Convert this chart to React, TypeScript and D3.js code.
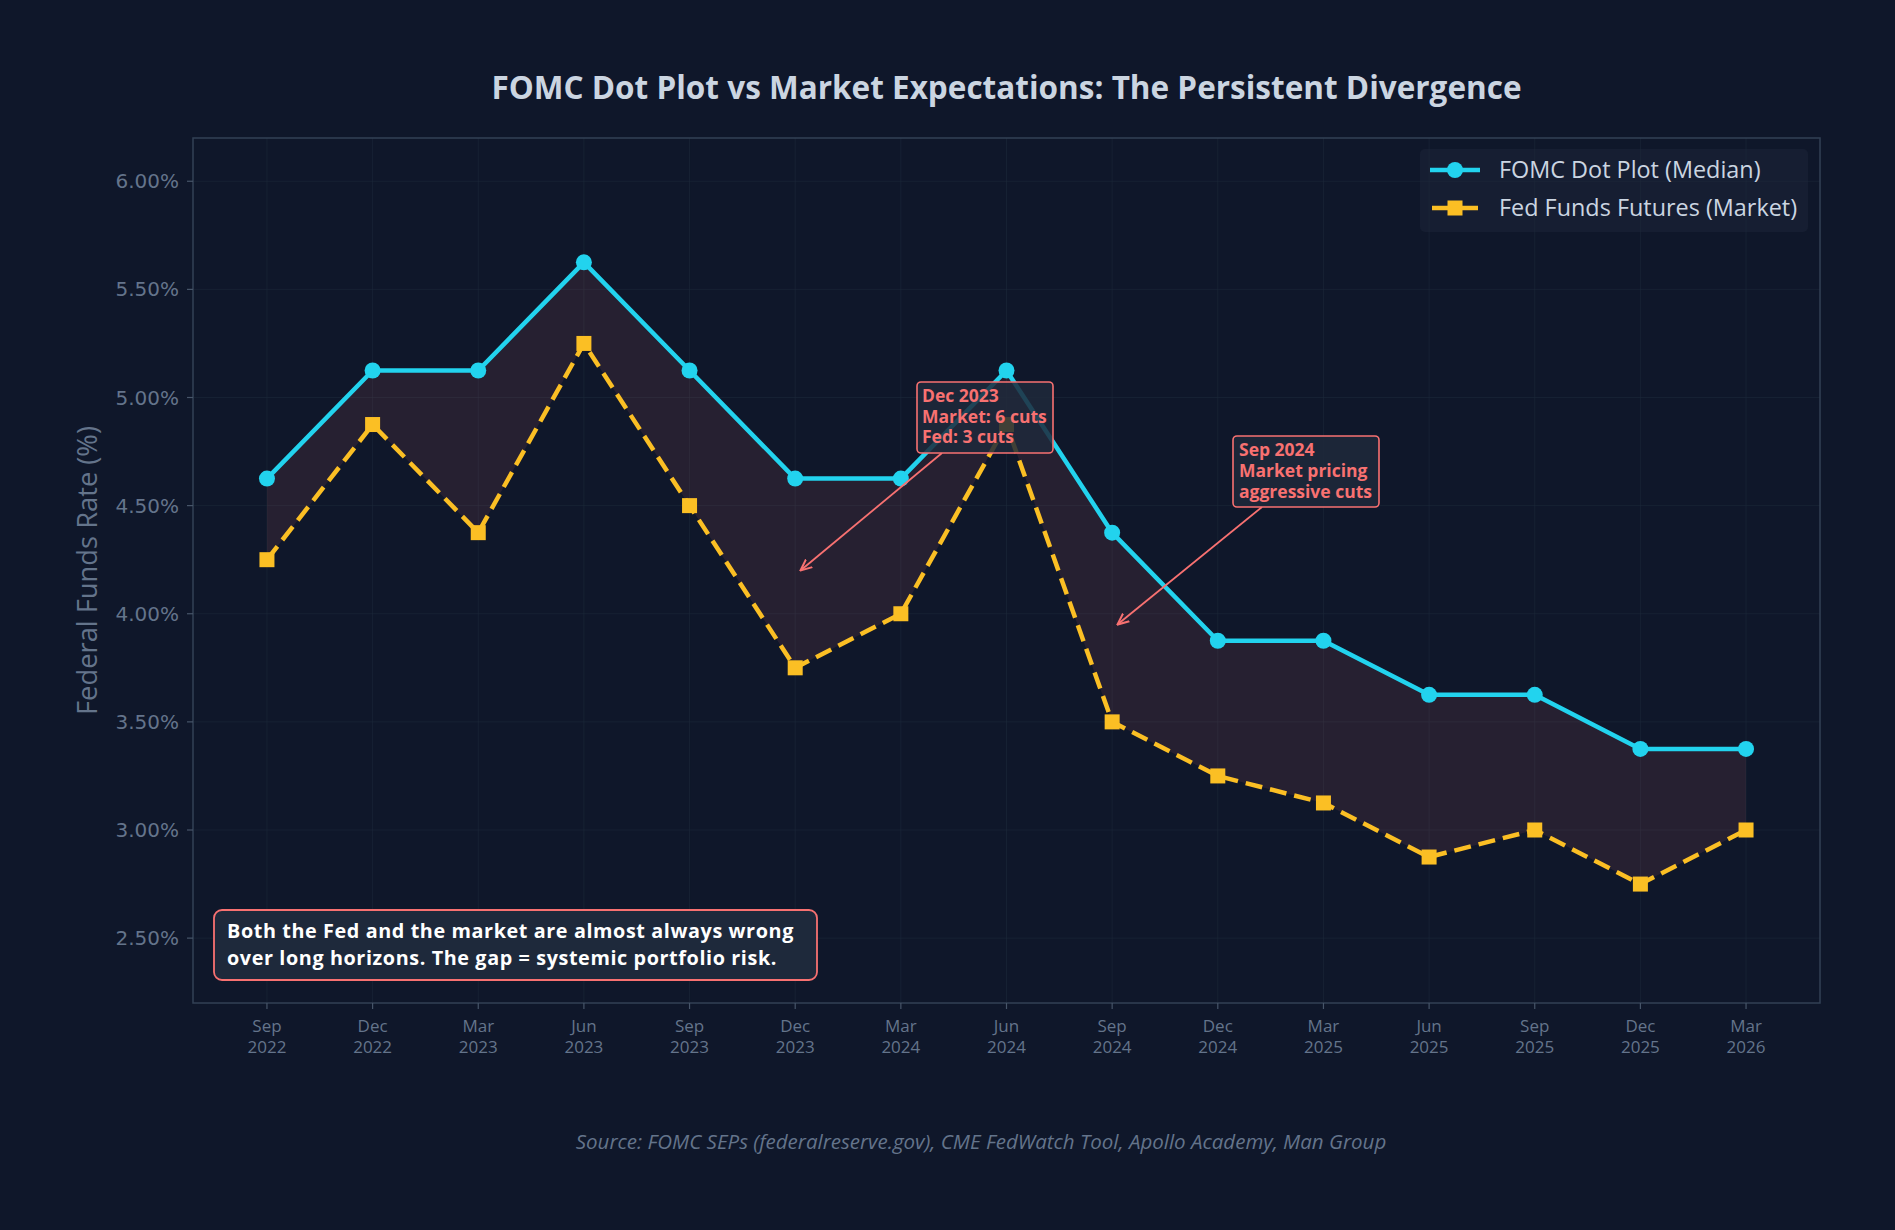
import React from "react";
import * as d3 from "d3";

// Meeting dates (x categories)
const months = ["Sep", "Dec", "Mar", "Jun", "Sep", "Dec", "Mar", "Jun", "Sep", "Dec", "Mar", "Jun", "Sep", "Dec", "Mar"];
const years = ["2022", "2022", "2023", "2023", "2023", "2023", "2024", "2024", "2024", "2024", "2025", "2025", "2025", "2025", "2026"];

// FOMC median projection and futures-implied rate (%)
const fomcMedian = [4.625, 5.125, 5.125, 5.625, 5.125, 4.625, 4.625, 5.125, 4.375, 3.875, 3.875, 3.625, 3.625, 3.375, 3.375];
const marketRate = [4.25, 4.875, 4.375, 5.25, 4.5, 3.75, 4.0, 4.875, 3.5, 3.25, 3.125, 2.875, 3.0, 2.75, 3.0];

const yTicks = [2.5, 3.0, 3.5, 4.0, 4.5, 5.0, 5.5, 6.0];

const seriesNames = ["FOMC Dot Plot (Median)", "Fed Funds Futures (Market)"];
const calloutDec = ["Dec 2023", "Market: 6 cuts", "Fed: 3 cuts"];
const calloutSep = ["Sep 2024", "Market pricing", "aggressive cuts"];
const footnoteLines = [
  "Both the Fed and the market are almost always wrong",
  "over long horizons. The gap = systemic portfolio risk.",
];

const W = 1895;
const H = 1230;
const M = { left: 193, right: 1820, top: 138, bottom: 1003 };

const BG = "#0f172a";
const CYAN = "#22d3ee";
const AMBER = "#fbbf24";
const CORAL = "#f87171";
const MUTED = "#64748b";
const FONT = "'Open Sans', 'Noto Sans', sans-serif";

export default function App() {
  const idx = d3.range(months.length);
  const x = d3.scaleLinear().domain([-0.7, 14.7]).range([M.left, M.right]);
  const y = d3.scaleLinear().domain([2.2, 6.2]).range([M.bottom, M.top]);

  const lineFomc = d3.line<number>().x((i) => x(i)).y((i) => y(fomcMedian[i]));
  const lineMkt = d3.line<number>().x((i) => x(i)).y((i) => y(marketRate[i]));
  const gapArea = d3
    .area<number>()
    .x((i) => x(i))
    .y0((i) => y(marketRate[i]))
    .y1((i) => y(fomcMedian[i]));

  const arrowDec = { tx: x(5.05), ty: y(4.2), sx: 942, sy: 453 };
  const arrowSep = { tx: x(8.05), ty: y(3.95), sx: 1262, sy: 507 };

  return (
    <div style={{ position: "absolute", left: 0, top: 0 }}>
      <svg width={W} height={H} style={{ display: "block", background: BG }}>
        <defs>
          <marker id="arrowHead" viewBox="0 0 10 10" refX="9" refY="5" markerWidth="7" markerHeight="7" orient="auto-start-reverse">
            <path d="M0,1 L9,5 L0,9" fill="none" stroke={CORAL} strokeWidth={1.6} />
          </marker>
        </defs>
        <rect x={0} y={0} width={W} height={H} fill={BG} />

        {/* grid */}
        <g>
          {yTicks.map((t) => (
            <line key={"gy" + t} x1={M.left} x2={M.right} y1={y(t)} y2={y(t)} stroke="#1e293b" strokeOpacity={0.55} strokeWidth={1} />
          ))}
          {idx.map((i) => (
            <line key={"gx" + i} x1={x(i)} x2={x(i)} y1={M.top} y2={M.bottom} stroke="#1e293b" strokeOpacity={0.55} strokeWidth={1} />
          ))}
        </g>

        {/* gap between projections */}
        <path d={gapArea(idx) || ""} fill={CORAL} fillOpacity={0.1} />

        {/* frame */}
        <rect x={M.left} y={M.top} width={M.right - M.left} height={M.bottom - M.top} fill="none" stroke="#334155" strokeWidth={1.5} />

        {/* y axis */}
        <g>
          {yTicks.map((t) => (
            <g key={"yt" + t}>
              <line x1={M.left - 6} x2={M.left} y1={y(t)} y2={y(t)} stroke="#475569" strokeWidth={1.2} />
              <text x={M.left - 14} y={y(t)} dy="0.35em" textAnchor="end" fontFamily="'DejaVu Sans', sans-serif" fontSize={20} fill={MUTED}>
                {d3.format(".2f")(t) + "%"}
              </text>
            </g>
          ))}
          <text
            transform={`translate(87,${(M.top + M.bottom) / 2}) rotate(-90)`}
            textAnchor="middle"
            dy="0.35em"
            fontFamily={FONT}
            fontSize={27.3}
            fill={MUTED}
          >
            Federal Funds Rate (%)
          </text>
        </g>

        {/* x axis */}
        <g>
          {idx.map((i) => (
            <g key={"xt" + i}>
              <line x1={x(i)} x2={x(i)} y1={M.bottom} y2={M.bottom + 6} stroke="#475569" strokeWidth={1.2} />
              <text x={x(i)} y={M.bottom + 29} textAnchor="middle" fontFamily={FONT} fontSize={17} fill={MUTED}>
                {months[i]}
              </text>
              <text x={x(i)} y={M.bottom + 50} textAnchor="middle" fontFamily={FONT} fontSize={17} fill={MUTED}>
                {years[i]}
              </text>
            </g>
          ))}
        </g>

        {/* series */}
        <path d={lineFomc(idx) || ""} fill="none" stroke={CYAN} strokeWidth={4.5} strokeLinejoin="round" />
        <path d={lineMkt(idx) || ""} fill="none" stroke={AMBER} strokeWidth={4.5} strokeDasharray="17,8" />
        {idx.map((i) => (
          <circle key={"c" + i} cx={x(i)} cy={y(fomcMedian[i])} r={8} fill={CYAN} />
        ))}
        {idx.map((i) => (
          <rect key={"s" + i} x={x(i) - 7.5} y={y(marketRate[i]) - 7.5} width={15} height={15} fill={AMBER} />
        ))}

        {/* callout: Dec 2023 */}
        <line x1={arrowDec.sx} y1={arrowDec.sy} x2={arrowDec.tx} y2={arrowDec.ty} stroke={CORAL} strokeWidth={1.8} markerEnd="url(#arrowHead)" />
        <rect x={917} y={382} width={136} height={71} rx={4} fill="#1e293b" fillOpacity={0.85} stroke={CORAL} strokeWidth={1.6} />
        {calloutDec.map((s, k) => (
          <text key={"cd" + k} x={922} y={396 + k * 20.5} dy="0.35em" fontFamily={FONT} fontWeight={700} fontSize={17.5} fill={CORAL}>
            {s}
          </text>
        ))}

        {/* callout: Sep 2024 */}
        <line x1={arrowSep.sx} y1={arrowSep.sy} x2={arrowSep.tx} y2={arrowSep.ty} stroke={CORAL} strokeWidth={1.8} markerEnd="url(#arrowHead)" />
        <rect x={1233} y={436} width={146} height={71} rx={4} fill="#1e293b" fillOpacity={0.85} stroke={CORAL} strokeWidth={1.6} />
        {calloutSep.map((s, k) => (
          <text key={"cs" + k} x={1239} y={450 + k * 20.8} dy="0.35em" fontFamily={FONT} fontWeight={700} fontSize={17.5} fill={CORAL}>
            {s}
          </text>
        ))}

        {/* legend */}
        <rect x={1420} y={149} width={388} height={83} rx={5} fill="#1e293b" fillOpacity={0.45} />
        <line x1={1430} x2={1480} y1={170} y2={170} stroke={CYAN} strokeWidth={4.5} />
        <circle cx={1455} cy={170} r={8} fill={CYAN} />
        <line x1={1432} x2={1478} y1={208} y2={208} stroke={AMBER} strokeWidth={4.5} />
        <rect x={1447.5} y={200.5} width={15} height={15} fill={AMBER} />
        {seriesNames.map((s, k) => (
          <text key={"lg" + k} x={1499} y={170 + k * 38} dy="0.35em" fontFamily={FONT} fontSize={23.4} fill="#cbd5e1">
            {s}
          </text>
        ))}

        {/* footnote box */}
        <rect x={214} y={910} width={603} height={70} rx={8} fill="#1e293b" stroke={CORAL} strokeWidth={1.8} />
        {footnoteLines.map((s, k) => (
          <text key={"fn" + k} x={227} y={931 + k * 27} dy="0.35em" fontFamily={FONT} fontWeight={700} fontSize={19.8} letterSpacing={0.6} fill="#ffffff">
            {s}
          </text>
        ))}

        {/* title */}
        <text x={(M.left + M.right) / 2} y={88} dy="0.35em" textAnchor="middle" fontFamily={FONT} fontWeight={700} fontSize={31.5} fill="#cbd5e1">
          FOMC Dot Plot vs Market Expectations: The Persistent Divergence
        </text>

        {/* source */}
        <text x={981} y={1142} dy="0.35em" textAnchor="middle" fontFamily={FONT} fontStyle="italic" fontSize={20.5} fill={MUTED}>
          Source: FOMC SEPs (federalreserve.gov), CME FedWatch Tool, Apollo Academy, Man Group
        </text>
      </svg>
    </div>
  );
}
